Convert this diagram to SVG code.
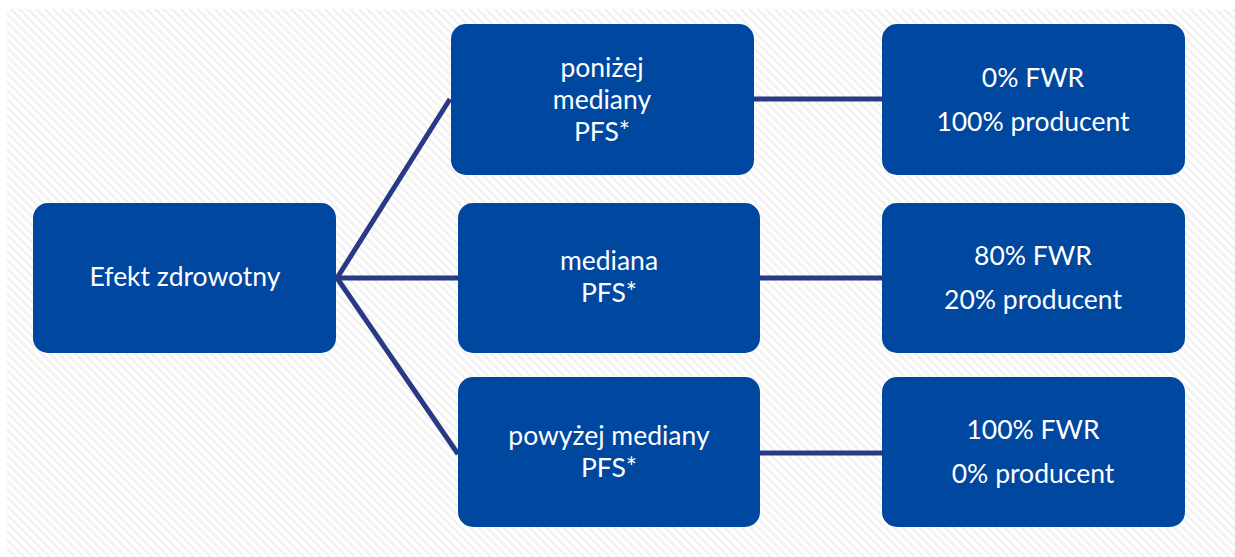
<svg xmlns="http://www.w3.org/2000/svg" width="1235" height="557" viewBox="0 0 1235 557">
<defs>
<pattern id="stripes" patternUnits="userSpaceOnUse" width="6" height="6" patternTransform="rotate(-45)">
<rect width="6" height="6" fill="#ffffff"/>
<rect width="2.5" height="6" fill="#f1f1f1"/>
</pattern>
<style>
.box{fill:#0047a0;}
.t{font-family:Lato,"Open Sans","Liberation Sans",sans-serif;font-size:26.5px;fill:#ffffff;text-anchor:middle;}
.c{stroke:#283a85;stroke-width:5;fill:none;stroke-linecap:butt;}
</style>
</defs>
<rect width="1235" height="557" fill="#ffffff"/>
<rect x="7" y="9" width="1228" height="548" fill="url(#stripes)"/>
<g id="connectors">
<polyline class="c" points="450,99 337,278 458,278"/>
<line class="c" x1="337" y1="278" x2="458" y2="454"/>
<line class="c" x1="754" y1="99" x2="882" y2="99"/>
<line class="c" x1="760" y1="278" x2="882" y2="278"/>
<line class="c" x1="760" y1="453" x2="882" y2="453"/>
</g>
<g id="n-efekt">
<rect class="box" x="33" y="203" width="303" height="150" rx="15"/>
<text class="t" x="185" y="286">Efekt zdrowotny</text>
</g>
<g id="n-ponizej">
<rect class="box" x="451" y="24" width="303" height="151" rx="15"/>
<text class="t" x="602" y="77">poniżej</text>
<text class="t" x="602" y="109">mediany</text>
<text class="t" x="602" y="141">PFS*</text>
</g>
<g id="n-mediana">
<rect class="box" x="458" y="203" width="302" height="150" rx="15"/>
<text class="t" x="609" y="270">mediana</text>
<text class="t" x="609" y="302">PFS*</text>
</g>
<g id="n-powyzej">
<rect class="box" x="458" y="377" width="302" height="150" rx="15"/>
<text class="t" x="609" y="445">powyżej mediany</text>
<text class="t" x="609" y="477">PFS*</text>
</g>
<g id="n-r1">
<rect class="box" x="882" y="24" width="303" height="151" rx="15"/>
<text class="t" x="1033" y="87">0% FWR</text>
<text class="t" x="1033" y="131">100% producent</text>
</g>
<g id="n-r2">
<rect class="box" x="882" y="203" width="303" height="150" rx="15"/>
<text class="t" x="1033" y="265">80% FWR</text>
<text class="t" x="1033" y="309">20% producent</text>
</g>
<g id="n-r3">
<rect class="box" x="882" y="377" width="303" height="150" rx="15"/>
<text class="t" x="1033" y="439">100% FWR</text>
<text class="t" x="1033" y="483">0% producent</text>
</g>
</svg>
